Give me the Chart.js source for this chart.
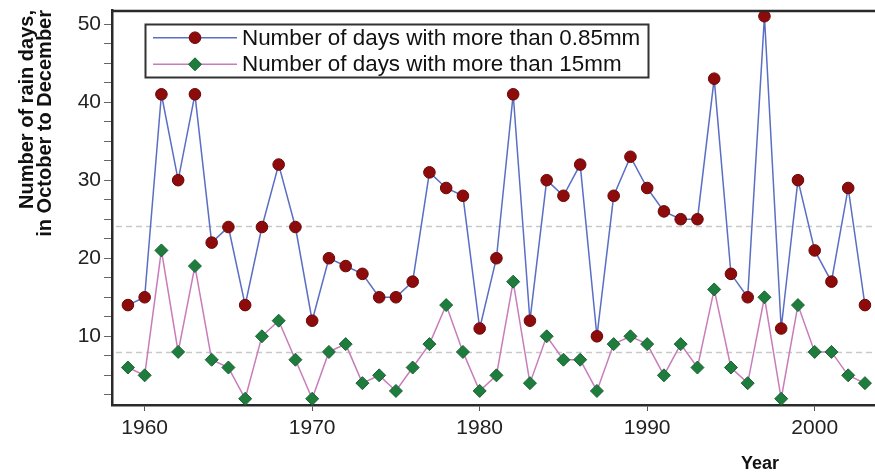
<!DOCTYPE html>
<html>
<head>
<meta charset="utf-8">
<script src="https://cdn.jsdelivr.net/npm/chart.js@4"></script>
<style>
html,body{margin:0;padding:0;background:#fff;overflow:hidden}
#wrap{width:875px;height:472px;position:relative}
</style>
</head>
<body>
<div id="wrap"><canvas id="c"></canvas></div>
<script>
// ---- data ----
const years = [1959,1960,1961,1962,1963,1964,1965,1966,1967,1968,1969,1970,1971,1972,1973,1974,1975,1976,1977,1978,1979,1980,1981,1982,1983,1984,1985,1986,1987,1988,1989,1990,1991,1992,1993,1994,1995,1996,1997,1998,1999,2000,2001,2002,2003];
const daysOver085mm = [14,15,41,30,41,22,24,14,24,32,24,12,20,19,18,15,15,17,31,29,28,11,20,41,12,30,28,32,10,28,33,29,26,25,25,43,18,15,51,11,30,21,17,29,14];
const daysOver15mm = [6,5,21,8,19,7,6,2,10,12,7,2,8,9,4,5,3,6,9,14,8,3,5,17,4,10,7,7,3,9,10,9,5,9,6,16,6,4,15,2,14,8,8,5,4];
const seriesLabels = ['Number of days with more than 0.85mm', 'Number of days with more than 15mm'];
const yAxisTitle = ['Number of rain days,', 'in October to December'];
const xAxisTitle = 'Year';
const xTickStep = 10;
const yTickStep = 2.5;
const yLabelStep = 10;

const mean = a => a.reduce((s, v) => s + v, 0) / a.length;
const referenceLevels = [mean(daysOver085mm), mean(daysOver15mm)];

const FONT = "'Liberation Sans', Arial, Helvetica, sans-serif";
Chart.defaults.font.family = FONT;

const toPoints = (xs, ys) => xs.map((x, i) => ({x: x, y: ys[i]}));

const decorPlugin = {
  id: 'decor',
  beforeDatasetsDraw(chart) {
    const {ctx, chartArea} = chart;
    const y = chart.scales.y;
    ctx.save();
    ctx.strokeStyle = '#c9c9c9';
    ctx.lineWidth = 1.5;
    ctx.setLineDash([6, 4]);
    referenceLevels.forEach(v => {
      const py = Math.round(y.getPixelForValue(v)) + 0.5;
      ctx.beginPath();
      ctx.moveTo(chartArea.left + 4, py);
      ctx.lineTo(chartArea.right, py);
      ctx.stroke();
    });
    ctx.restore();
  },
  afterDraw(chart) {
    const {ctx, chartArea} = chart;
    ctx.save();
    // top frame line
    ctx.strokeStyle = '#2a2a2a';
    ctx.lineWidth = 2.5;
    ctx.beginPath();
    ctx.moveTo(chartArea.left, chartArea.top + 1);
    ctx.lineTo(chartArea.right, chartArea.top + 1);
    ctx.stroke();

    // legend box
    const bx = 145, by = 24, bw = 503, bh = 53;
    ctx.fillStyle = '#fff';
    ctx.fillRect(bx, by, bw, bh);
    ctx.strokeStyle = '#333';
    ctx.lineWidth = 2;
    ctx.strokeRect(bx + 0.5, by + 0.5, bw, bh);
    const rows = [37.7, 64.3];
    chart.data.datasets.forEach((ds, i) => {
      const ry = rows[i];
      ctx.strokeStyle = ds.borderColor;
      ctx.lineWidth = ds.borderWidth;
      ctx.setLineDash([]);
      ctx.beginPath();
      ctx.moveTo(153, ry);
      ctx.lineTo(237, ry);
      ctx.stroke();
      const opts = {pointStyle: ds.pointStyle, radius: ds.pointRadius, borderWidth: ds.pointBorderWidth, rotation: 0};
      ctx.fillStyle = ds.pointBackgroundColor;
      ctx.strokeStyle = ds.pointBorderColor;
      ctx.lineWidth = ds.pointBorderWidth;
      if (Chart.helpers && Chart.helpers.drawPoint) {
        Chart.helpers.drawPoint(ctx, opts, 195, ry);
      } else {
        ctx.beginPath();
        ctx.arc(195, ry, ds.pointRadius, 0, Math.PI * 2);
        ctx.fill(); ctx.stroke();
      }
      ctx.fillStyle = '#111';
      ctx.font = '22.4px ' + FONT;
      ctx.textAlign = 'left';
      ctx.textBaseline = 'alphabetic';
      ctx.fillText(ds.label, 242, ry + 6.8);
    });

    // x axis title
    ctx.fillStyle = '#111';
    ctx.font = 'bold 18px ' + FONT;
    ctx.textAlign = 'center';
    ctx.textBaseline = 'alphabetic';
    ctx.fillText(xAxisTitle, 760, 469);
    ctx.restore();
  }
};

new Chart(document.getElementById('c'), {
  type: 'line',
  data: {
    datasets: [
      {
        label: seriesLabels[0],
        data: toPoints(years, daysOver085mm),
        borderColor: '#5a6ec4',
        borderWidth: 1.5,
        pointStyle: 'circle',
        pointRadius: 5.8,
        pointBorderWidth: 1,
        pointBackgroundColor: '#8e0b0b',
        pointBorderColor: '#6a0606',
        tension: 0,
        clip: false
      },
      {
        label: seriesLabels[1],
        data: toPoints(years, daysOver15mm),
        borderColor: '#c97cba',
        borderWidth: 1.5,
        pointStyle: 'rectRot',
        pointRadius: 6.5,
        pointBorderWidth: 1,
        pointBackgroundColor: '#1e7d3d',
        pointBorderColor: '#176332',
        tension: 0,
        clip: false
      }
    ]
  },
  options: {
    responsive: true,
    maintainAspectRatio: false,
    animation: false,
    devicePixelRatio: 1,
    layout: {autoPadding: false, padding: {top: 10, right: 0, left: 0, bottom: 0}},
    plugins: {
      legend: {display: false},
      tooltip: {enabled: false}
    },
    scales: {
      x: {
        type: 'linear',
        min: 1958.05,
        max: 2003.6,
        afterFit: s => { s.height = 67; s.paddingLeft = 0; s.paddingRight = 0; },
        ticks: {
          stepSize: xTickStep,
          includeBounds: false,
          autoSkip: false,
          maxRotation: 0,
          padding: 5,
          color: '#222',
          font: {size: 21},
          callback: v => String(v)
        },
        grid: {drawOnChartArea: false, drawTicks: true, tickLength: 6, color: '#555', tickWidth: 1},
        border: {display: true, color: '#2a2a2a', width: 2.5}
      },
      y: {
        min: 1.2,
        max: 51.8,
        afterFit: s => { s.width = 112; s.paddingTop = 0; s.paddingBottom = 0; },
        ticks: {
          stepSize: yTickStep,
          includeBounds: false,
          autoSkip: false,
          padding: 3,
          color: '#222',
          font: {size: 21},
          callback: v => (Math.abs(v % yLabelStep) < 1e-9 ? String(v) : '')
        },
        grid: {drawOnChartArea: false, drawTicks: true, tickLength: 8, color: '#666', tickWidth: 1},
        border: {display: true, color: '#2a2a2a', width: 2.5},
        title: {
          display: true,
          text: yAxisTitle,
          align: 'end',
          color: '#111',
          font: {size: 20, weight: 'bold', lineHeight: 0.93},
          padding: {top: 18, bottom: 0}
        }
      }
    }
  },
  plugins: [decorPlugin]
});
</script>
</body>
</html>
